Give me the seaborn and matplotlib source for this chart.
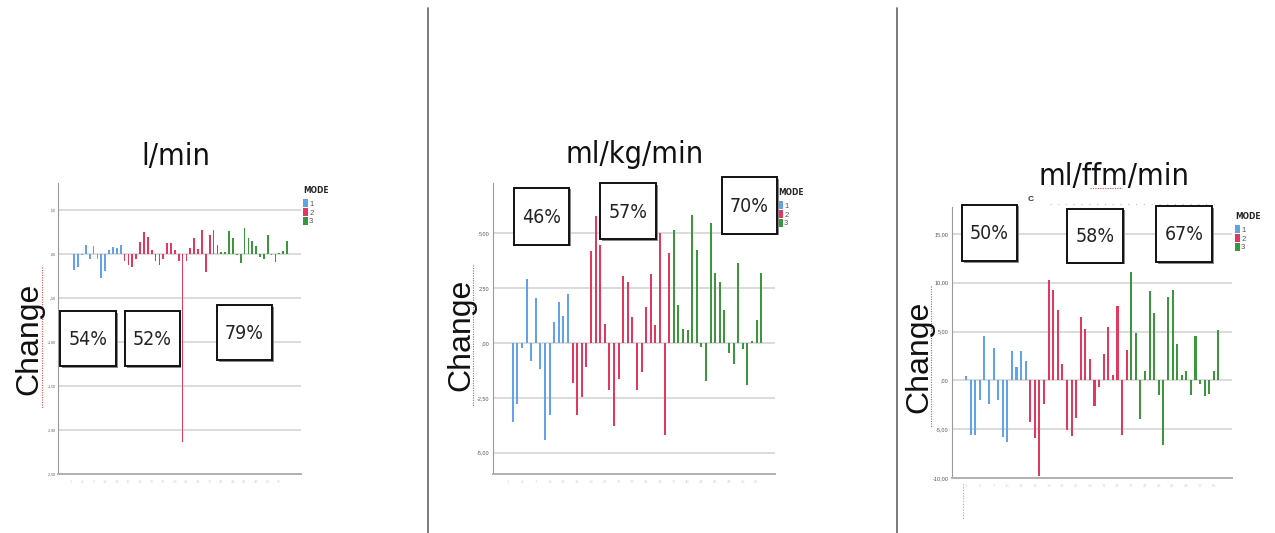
import os
import re
import numpy as np
import pandas as pd
import matplotlib
matplotlib.use("Agg")
import matplotlib.pyplot as plt
import seaborn as sns
from matplotlib import font_manager as fm
from matplotlib.font_manager import FontProperties
from matplotlib.patches import Rectangle, Patch
from matplotlib.lines import Line2D

nan = np.nan

# ---- change per subject, grouped by MODE ----
lmin_mode1 = [nan, -0.18, -0.15, -0.01, 0.11, -0.05, 0.09, -0.06, -0.27, -0.19, 0.05, 0.08, 0.07, 0.11]
lmin_mode2 = [-0.08, -0.12, -0.15, -0.05, 0.14, 0.25, 0.20, 0.05, -0.08, -0.12, -0.06, 0.13,
              0.13, 0.05, -0.08, -2.14, -0.08, 0.07, 0.18, 0.06, 0.28, -0.20, 0.22]
lmin_mode3 = [0.28, 0.10, 0.02, 0.02, 0.26, 0.18, -0.01, -0.10, 0.30, 0.19, 0.15, 0.09, -0.03,
              -0.05, 0.22, -0.01, -0.09, 0.01, 0.04, 0.15]

mlkg_mode1 = [nan, -3.61, -2.79, -0.21, 2.92, -0.82, 2.06, -1.17, -4.44, -3.27, 0.94, 1.89, 1.23, 2.21]
mlkg_mode2 = [-1.83, -3.30, -2.47, -1.09, 4.21, 5.79, 4.47, 0.86, -2.14, -3.79, -1.64, 3.05,
              2.79, 1.20, -2.14, -1.32, 1.65, 3.14, 0.83, 5.02, -4.18, 4.08]
mlkg_mode3 = [5.15, 1.74, 0.63, 0.58, 5.85, 4.24, -0.19, -1.74, 5.48, 3.19, 2.80, 1.50, -0.45,
              -0.98, 3.66, -0.28, -1.90, 0.10, 1.05, 3.19]

mlffm_mode1 = [0.41, -5.56, -5.56, -2.04, 4.57, -2.42, 3.31, -2.04, -5.83, -6.34, 2.97, 1.36, 2.97, 1.94]
mlffm_mode2 = [-4.29, -5.90, -9.75, -2.39, 10.29, 9.20, 7.16, 1.70, -5.04, -5.66, -3.89, 6.48,
               5.22, 2.18, -2.66, -0.68, 2.66, 5.45, 0.51, 7.57, -5.62, 3.07]
mlffm_mode3 = [11.08, 4.84, -3.99, 0.92, 9.13, 6.92, -1.53, -6.58, 8.52, 9.27, 3.68, 0.51, 0.92,
               -1.53, 4.50, -0.34, -1.64, -1.43, 0.92, 5.18]

titles = ["l/min", "ml/kg/min", "ml/ffm/min"]
pct_lmin = ["54%", "52%", "79%"]
pct_mlkg = ["46%", "57%", "70%"]
pct_mlffm = ["50%", "58%", "67%"]

ticks_lmin = [0.5, 0.0, -0.5, -1.0, -1.5, -2.0, -2.5]
ticks_mlkg = [5.0, 2.5, 0.0, -2.5, -5.0]
ticks_mlffm = [15.0, 10.0, 5.0, 0.0, -5.0, -10.0]

modes = ["1", "2", "3"]
palette = {"1": "#62a2e8", "2": "#e2385f", "3": "#3c963c"}

W, H = 1275, 533


def fx(px):
    return px / W


def fy(py):
    return 1 - py / H


def spss_fmt(v):
    s = f"{abs(v):.2f}".replace(".", ",")
    if s.startswith("0"):
        s = s[1:]
    return ("-" if v < 0 else "") + s


def frame(m1, m2, m3):
    vals = list(m1) + list(m2) + list(m3)
    labs = ["1"] * len(m1) + ["2"] * len(m2) + ["3"] * len(m3)
    return pd.DataFrame({"subject": np.arange(len(vals)), "change": vals, "mode": labs})


def find_narrow(bold=False):
    """Return the path of an installed narrow/condensed sans face, or None."""
    skip = r"(Italic|Oblique|Light|Thin|Medium|Black|Semi|Extra|Ultra|Mono|Serif|Heavy)"
    found = {}
    for entry in fm.fontManager.ttflist:
        base = os.path.basename(entry.fname)
        if not re.search(r"(Narrow|Condensed)", base):
            continue
        if re.search(skip, base):
            continue
        is_bold = "Bold" in base
        if is_bold != bold:
            continue
        found[base] = entry.fname
    for pat in ("LiberationSansNarrow", "NotoSans-Condensed", "DejaVuSansCondensed",
                "OpenSans", "Roboto"):
        for base, path in sorted(found.items()):
            if base.startswith(pat):
                return path
    return next(iter(sorted(found.values())), None)


sns.set_theme(style="white")
plt.rcParams["font.family"] = ["Liberation Sans", "DejaVu Sans"]

narrow_path = find_narrow(False)
narrow_bold_path = find_narrow(True)
if narrow_path:
    title_fp = FontProperties(fname=narrow_path, size=22)
    pct_fp = FontProperties(fname=narrow_path, size=14)
else:
    title_fp = FontProperties(family=["Liberation Sans", "DejaVu Sans"], size=21)
    pct_fp = FontProperties(family=["Liberation Sans", "DejaVu Sans"], size=13.5)
if narrow_bold_path:
    mode_fp = FontProperties(fname=narrow_bold_path, size=6)
else:
    mode_fp = FontProperties(family=["Liberation Sans", "DejaVu Sans"], weight="bold", size=5.5)

fig = plt.figure(figsize=(W / 100, H / 100), dpi=100)

panels = [
    dict(data=frame(lmin_mode1, lmin_mode2, lmin_mode3), rect=(58, 183, 301, 474),
         ylim=(-2.5, 0.81), ticks=ticks_lmin, xlim=(-3.2, 59.6), pct=pct_lmin, tick_fs=2.5,
         boxes=[(60, 311, 116, 366), (125, 311, 180, 366), (217, 305, 272, 360)],
         title=(176, 165), ylab=(29, 339), squig=(42, 267, 408), legend=(303, 186)),
    dict(data=frame(mlkg_mode1, mlkg_mode2, mlkg_mode3), rect=(493, 183, 775, 474),
         ylim=(-5.97, 7.29), ticks=ticks_mlkg, xlim=(-3.3, 58.0), pct=pct_mlkg, tick_fs=4,
         boxes=[(514, 188, 569, 245), (600, 183, 656, 239), (722, 177, 777, 234)],
         title=(635, 163), ylab=(461, 335), squig=(473, 265, 407), legend=(778, 188)),
    dict(data=frame(mlffm_mode1, mlffm_mode2, mlffm_mode3), rect=(952, 207, 1232, 478),
         ylim=(-10.0, 17.75), ticks=ticks_mlffm, xlim=(-3.05, 57.95), pct=pct_mlffm, tick_fs=4,
         boxes=[(962, 205, 1017, 261), (1067, 209, 1123, 263), (1156, 206, 1212, 262)],
         title=(1114, 185), ylab=(919, 357), squig=(931, 286, 427), legend=(1235, 212)),
]

for i, p in enumerate(panels):
    x0, y0, x1, y1 = p["rect"]
    ax = fig.add_axes([fx(x0), fy(y1), fx(x1) - fx(x0), fy(y0) - fy(y1)])
    ax.set_axisbelow(True)
    ax.yaxis.grid(True, color="#dcdcdc", linewidth=1.4)
    ax.xaxis.grid(False)

    sns.barplot(data=p["data"], x="subject", y="change", hue="mode", hue_order=modes,
                palette=palette, dodge=False, native_scale=True, width=0.45,
                errorbar=None, saturation=1, legend=False, ax=ax, linewidth=0)

    ax.set_xlim(*p["xlim"])
    ax.set_ylim(*p["ylim"])
    ax.set_yticks(p["ticks"])
    ax.set_yticklabels([spss_fmt(t) for t in p["ticks"]], fontsize=p["tick_fs"],
                       color="#555555")
    n = len(p["data"])
    xt = np.arange(0, n, 3)
    ax.set_xticks(xt)
    ax.set_xticklabels([str(k + 1) for k in xt], fontsize=3, color="#d4d4d4")
    ax.tick_params(axis="y", length=0, pad=1.5 if i == 0 else 2.5)
    ax.tick_params(axis="x", length=0, pad=4)
    ax.set_xlabel("")
    ax.set_ylabel("")
    for side in ("top", "right"):
        ax.spines[side].set_visible(False)
    ax.spines["left"].set_color("#9a9a9a")
    ax.spines["left"].set_linewidth(0.8)
    ax.spines["bottom"].set_color("#b0b0b0")
    ax.spines["bottom"].set_linewidth(1.4)

    handles = [Patch(facecolor=palette[m], edgecolor="none", label=m) for m in modes]
    leg = ax.legend(handles=handles, title="MODE", loc="upper left", frameon=False,
                    bbox_to_anchor=(fx(p["legend"][0]), fy(p["legend"][1])),
                    bbox_transform=fig.transFigure, fontsize=5.5,
                    title_fontproperties=mode_fp,
                    handlelength=0.6, handleheight=1.2, handletextpad=0.2,
                    labelspacing=0.05, borderpad=0, borderaxespad=0, alignment="left")
    leg._legend_box.sep = 3
    for t in leg.get_texts():
        t.set_color("#555555")

    # title above each panel
    tx, ty = p["title"]
    fig.text(fx(tx), fy(ty), titles[i], ha="center", va="baseline",
             fontproperties=title_fp, color="#111111")

    # big vertical axis label
    lx, ly = p["ylab"]
    fig.text(fx(lx), fy(ly), "Change", rotation=90, ha="center", va="center",
             fontsize=23, color="#111111")
    sx, sy0, sy1 = p["squig"]
    fig.add_artist(Line2D([fx(sx), fx(sx)], [fy(sy0), fy(sy1)], color="#e05050",
                          linewidth=0.8, linestyle=(0, (1, 1.2)), transform=fig.transFigure))

    # percentage boxes
    for (bx0, by0, bx1, by1), label in zip(p["boxes"], p["pct"]):
        fig.add_artist(Rectangle((fx(bx0) + 1.5 / W, fy(by1) - 1.5 / H),
                                 fx(bx1) - fx(bx0), fy(by0) - fy(by1),
                                 transform=fig.transFigure, facecolor="#8a8a8a",
                                 edgecolor="none", zorder=5))
        fig.add_artist(Rectangle((fx(bx0), fy(by1)), fx(bx1) - fx(bx0), fy(by0) - fy(by1),
                                 transform=fig.transFigure, facecolor="white",
                                 edgecolor="#111111", linewidth=1.4, zorder=6))
        fig.text(fx((bx0 + bx1) / 2), fy((by0 + by1) / 2 + 1), label, ha="center",
                 va="center", fontproperties=pct_fp, color="#222222", zorder=7)

# spell-check mark under "ffm"
fig.add_artist(Line2D([fx(1090), fx(1122)], [fy(188), fy(188)], color="#e05050",
                      linewidth=0.8, linestyle=(0, (1, 1.2)), transform=fig.transFigure))

# leftover caption fragment above the third panel
fig.text(fx(1031), fy(200), "C", ha="center", va="center", fontsize=6,
         fontweight="bold", color="#333333")
fig.add_artist(Line2D([fx(1050), fx(1215)], [fy(204), fy(204)], color="#bbbbbb",
                      linewidth=0.8, linestyle=(0, (1, 6)), transform=fig.transFigure))
fig.add_artist(Line2D([fx(963), fx(963)], [fy(484), fy(520)], color="#aaaaaa",
                      linewidth=0.8, linestyle=(0, (1, 1.5)), transform=fig.transFigure))

# panel separators
for sxp in (428, 897):
    fig.add_artist(Line2D([fx(sxp), fx(sxp)], [fy(8), fy(533)], color="#707070",
                          linewidth=1.3, transform=fig.transFigure))

fig.savefig("out.png", dpi=100, facecolor="white")
